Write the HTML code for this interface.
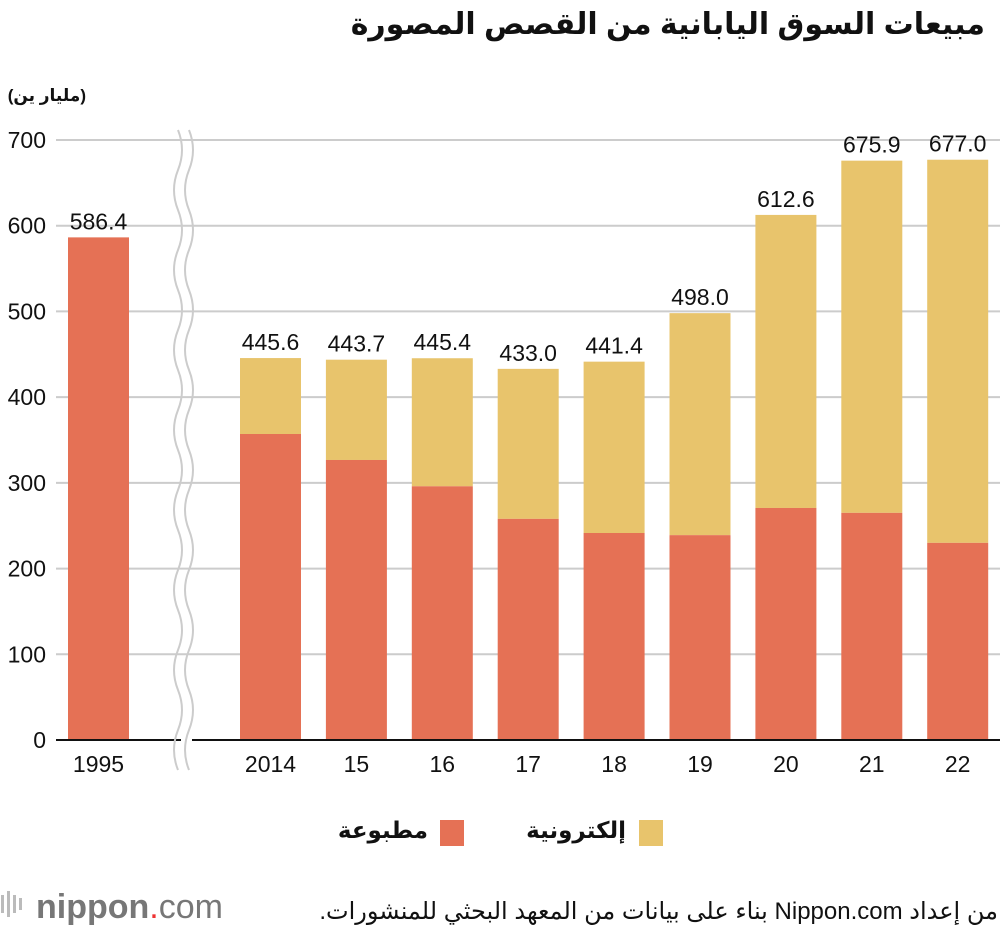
<!DOCTYPE html>
<html><head><meta charset="utf-8"><style>
body{margin:0;background:#fff;position:relative;width:1000px;height:930px;overflow:hidden;}
svg text{font-family:"Liberation Sans","Noto Sans CJK SC",sans-serif;}
.rt{position:absolute;direction:rtl;text-align:right;font-family:"Liberation Sans","DejaVu Sans",sans-serif;color:#111;white-space:nowrap;}
</style></head><body>
<div class="rt" style="right:15px;top:7px;font-size:30px;font-weight:bold;">مبيعات السوق اليابانية من القصص المصورة</div>
<div class="rt" style="right:914px;top:86px;font-size:17px;font-weight:bold;">(مليار ين)</div>
<div class="rt" style="right:2px;top:897px;font-size:24px;">من إعداد Nippon.com بناء على بيانات من المعهد البحثي للمنشورات.</div>
<div class="rt" style="right:374px;top:817px;font-size:23px;font-weight:bold;">إلكترونية</div>
<div class="rt" style="right:572px;top:817px;font-size:23px;font-weight:bold;">مطبوعة</div>
<svg id="c" width="1000" height="930" xmlns="http://www.w3.org/2000/svg">
<g id="grid"></g>
<g id="bars"></g>
<g>
<path d="M178 130 q8 20 0 40 q-8 20 0 40 q8 20 0 40 q-8 20 0 40 q8 20 0 40 q-8 20 0 40 q8 20 0 40 q-8 20 0 40 q8 20 0 40 q-8 20 0 40 q8 20 0 40 q-8 20 0 40 q8 20 0 40 q-8 20 0 40 q8 20 0 40 q-8 20 0 40" fill="none" stroke="#ccc" stroke-width="2"/>
<path d="M189 130 q8 20 0 40 q-8 20 0 40 q8 20 0 40 q-8 20 0 40 q8 20 0 40 q-8 20 0 40 q8 20 0 40 q-8 20 0 40 q8 20 0 40 q-8 20 0 40 q8 20 0 40 q-8 20 0 40 q8 20 0 40 q-8 20 0 40 q8 20 0 40 q-8 20 0 40" fill="none" stroke="#ccc" stroke-width="2"/>
</g>
<g>
<rect x="639" y="820" width="24" height="26" fill="#e8c46c"/>
<rect x="440" y="820" width="24" height="26" fill="#e57155"/>
</g>
<g>
<rect x="1" y="895" width="3" height="18" fill="#bbb"/><rect x="7" y="891" width="3" height="26" fill="#bbb"/><rect x="13" y="895" width="3" height="18" fill="#bbb"/><rect x="19" y="898" width="3" height="12" fill="#bbb"/>
<text x="36" y="918" font-size="34" fill="#777"><tspan font-weight="bold">nippon</tspan><tspan fill="#e33">.</tspan>com</text>
</g>
</svg>
<script>
const categories=["1995","2014","15","16","17","18","19","20","21","22"];
const printValues=[586.4,357,326.7,296,258,241.5,239,270.7,265,230];
const totalValues=[586.4,445.6,443.7,445.4,433.0,441.4,498.0,612.6,675.9,677.0];
const totalLabels=["586.4","445.6","443.7","445.4","433.0","441.4","498.0","612.6","675.9","677.0"];
const yTicks=[0,100,200,300,400,500,600,700];
const NS="http://www.w3.org/2000/svg";
function y(v){return 740-v*600/700;}
function x(i){return i===0?68:240+(i-1)*85.9;}
const BW=61;
function mk(t,a,p){const e=document.createElementNS(NS,t);for(const k in a)e.setAttribute(k,a[k]);p.appendChild(e);return e;}
const grid=document.getElementById('grid'),bars=document.getElementById('bars');
yTicks.forEach(v=>{
 if(v>0){
 const l=mk('line',{x1:56,x2:1000,y1:y(v),y2:y(v),stroke:'#ccc','stroke-width':2},grid);
 
 }
 const t=mk('text',{x:46,y:y(v)+8,'text-anchor':'end','font-size':23,fill:'#111'},grid);
 t.textContent=v;
 
 
});
categories.forEach((c,i)=>{
 const X=x(i);
 if(totalValues[i]>printValues[i]){
  const d=mk('rect',{x:X,y:y(totalValues[i]),width:BW,height:y(printValues[i])-y(totalValues[i]),fill:'#e8c46c'},bars);
  
  
 }
 const p=mk('rect',{x:X,y:y(printValues[i]),width:BW,height:740-y(printValues[i]),fill:'#e57155'},bars);
 
 
 const lab=mk('text',{x:X+BW/2,y:y(totalValues[i])-8,'text-anchor':'middle','font-size':23,fill:'#111'},bars);
 lab.textContent=totalLabels[i];
 
 
 const xl=mk('text',{x:X+BW/2,y:772,'text-anchor':'middle','font-size':23,fill:'#111'},bars);
 xl.textContent=c;
 
 
});
const a1=mk('line',{x1:56,x2:181,y1:740,y2:740,stroke:'#111','stroke-width':2},bars);


const a2=mk('line',{x1:192,x2:1000,y1:740,y2:740,stroke:'#111','stroke-width':2},bars);


</script>
</body></html>
